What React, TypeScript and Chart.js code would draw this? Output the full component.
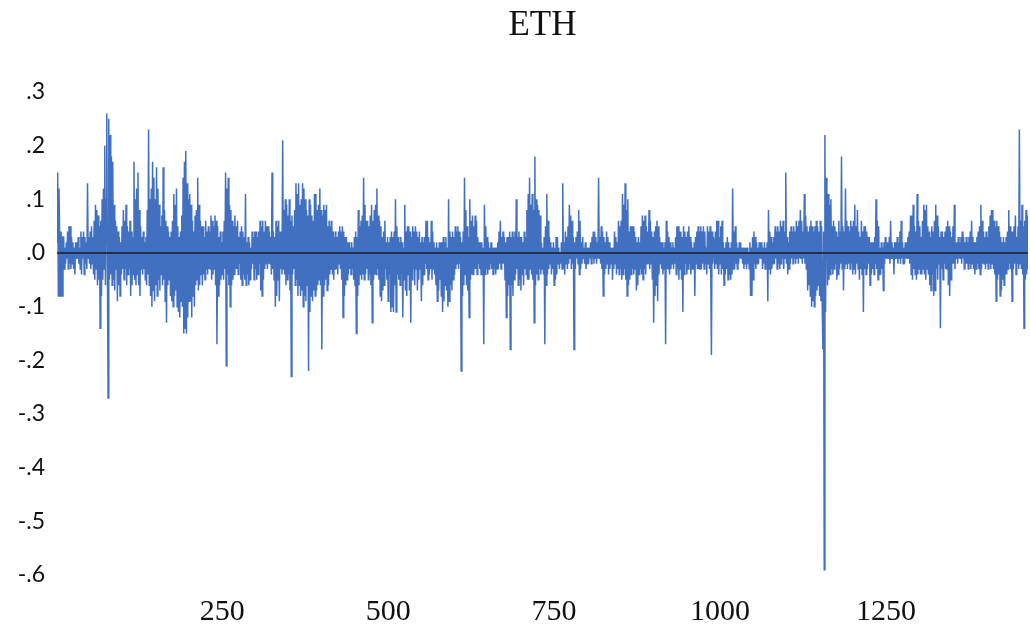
import { useEffect, useRef } from "react";
import { Chart, registerables } from "chart.js";

Chart.register(...registerables);

const chartTitle = "ETH";
const xTickValues = [250, 500, 750, 1000, 1250];
const yMinPct = -60;
const yMaxPct = 30;
const yStepPct = 10;

// daily returns, in hundredths (0.01 = 1)
const returnsPct = [
  2, 15, -8, 12, 3, -8, 4, 2, -8, 3,
  3, -3, 1, -2, 2, -1, 4, -3, 5, -2,
  5, -3, 3, -2, 2, -3, 1, -4, 2, -1,
  2, -1, 3, -2, 1, -3, 4, -4, 3, -1,
  4, -4, 3, -2, 2, -3, 13, -1, 3, -2,
  4, -3, 5, -2, 3, -4, 6, -5, 9, -3,
  8, -6, 7, -5, 5, -14, 6, -8, 10, -5,
  12, -3, 20, -6, 10, 26, -4, -27, 25, -5,
  22, -4, 18, -6, 17, -5, 9, -7, 6, -3,
  5, -9, 4, -6, 3, -8, 2, -4, 5, -3,
  8, -5, 6, -3, 9, -6, 5, -4, 4, -3,
  6, -8, 4, -6, 3, -4, 17, -5, 10, -6,
  12, -4, 15, -6, 8, -8, 5, -3, 3, -4,
  4, -3, 2, -5, 3, -6, 8, -4, 23, -6,
  10, -8, 12, -10, 17, -7, 14, -9, 10, -6,
  16, -8, 12, -5, 9, -7, 5, -4, 7, -6,
  16, -5, 8, -9, 6, -13, 5, -6, 4, -5,
  3, -8, 4, -9, 6, -10, 11, -8, 9, -7,
  12, -10, 5, -11, 3, -12, 4, -9, 7, -10,
  14, -15, 17, -14, 19, -15, 13, -12, 10, -9,
  11, -9, 9, -12, 6, -8, 4, -10, 7, -6,
  8, -5, 14, -7, 9, -6, 6, -4, 5, -6,
  5, -4, 3, -5, 6, -3, 4, -4, 5, -3,
  4, -3, 7, -5, 6, -4, 5, -3, 7, -6,
  6, -17, 5, -8, 3, -6, 4, -5, 2, -4,
  4, -5, 6, -3, 15, -21, 12, -4, 14, -6,
  9, -10, 8, -6, 6, -5, 5, -4, 7, -3,
  5, -3, 6, -4, 3, -2, 4, -5, 5, -6,
  4, -4, 3, -5, 11, -6, 2, -4, 3, -6,
  2, -5, 1, -3, 4, -2, 3, -5, 4, -3,
  4, -5, 3, -4, 4, -2, 6, -7, 5, -8,
  6, -5, 4, -3, 6, -2, 5, -3, 5, -2,
  4, -2, 3, -4, 15, -3, 4, -5, 3, -10,
  6, -8, 5, -5, 6, -9, 4, -3, 3, -4,
  21, -3, 8, -4, 10, -6, 9, -5, 7, -4,
  10, -7, 6, -23, 7, -4, 5, -3, 8, -6,
  13, -5, 11, -8, 13, -6, 9, -8, 10, -7,
  13, -10, 12, -8, 10, -9, 8, -6, 7, -22,
  10, -11, 9, -8, 7, -9, 6, -7, 11, -8,
  11, -7, 8, -6, 9, -5, 12, -6, 8, -18,
  7, -8, 9, -6, 8, -5, 9, -7, 5, -6,
  6, -4, 5, -3, 6, -4, 4, -5, 3, -3,
  4, -3, 3, -4, 4, -2, 5, -3, 4, -5,
  5, -12, 4, -8, 3, -6, 3, -5, 2, -4,
  2, -3, 1, -4, 2, -3, 1, -5, 3, -6,
  4, -15, 3, -8, 8, -6, 5, -4, 6, -5,
  7, -4, 14, -5, 9, -4, 6, -3, 6, -5,
  5, -4, 7, -6, 9, -13, 6, -5, 8, -4,
  9, -4, 12, -3, 7, -5, 6, -8, 5, -9,
  3, -7, 4, -6, 6, -3, 2, -5, 3, -9,
  2, -4, 3, -11, 4, -10, 3, -11, 4, -6,
  10, -11, 5, -4, 3, -5, 2, -6, 3, -4,
  2, -12, 1, -5, 9, -7, 4, -8, 5, -4,
  5, -7, 4, -13, 3, -5, 5, -3, 4, -6,
  5, -3, 4, -7, 3, -5, 4, -3, 2, -9,
  3, -6, 2, -4, 3, -2, 6, -3, 6, -5,
  3, -4, 2, -3, 6, -5, 4, -3, 2, -4,
  1, -6, 2, -9, 1, -7, 2, -5, 2, -8,
  2, -11, 3, -9, 2, -6, 3, -7, 1, -10,
  10, -9, 4, -6, 3, -7, 4, -5, 3, -4,
  5, -3, 4, -2, 5, -3, 4, -2, 3, -22,
  2, -8, 4, -6, 14, -4, 8, -6, 5, -7,
  3, -12, 10, -5, 6, -4, 7, -4, 5, -3,
  7, -3, 6, -4, 3, -2, 2, -3, 2, -4,
  2, -3, 1, -17, 9, -4, 5, -3, 3, -4,
  2, -3, 1, -2, 2, -3, 1, -4, 1, -3,
  1, -4, 1, -3, 2, -3, 4, -2, 6, -3,
  3, -2, 4, -2, 3, -5, 2, -12, 3, -8,
  3, -6, 4, -18, 3, -6, 4, -8, 3, -5,
  4, -4, 10, -3, 3, -6, 4, -5, 3, -7,
  3, -4, 2, -6, 4, -3, 3, -4, 8, -5,
  11, -5, 14, -3, 9, -4, 11, -5, 8, -13,
  18, -6, 10, -4, 9, -5, 8, -3, 7, -4,
  2, -3, 1, -4, 3, -17, 5, -6, 11, -4,
  6, -3, 3, -2, 2, -4, 1, -3, 2, -6,
  1, -5, 3, -4, 3, -2, 1, -3, 0, -2,
  2, -3, 13, -3, 2, -4, 4, -2, 3, -3,
  5, -2, 9, -1, 7, -3, 6, -2, 3, -18,
  2, -3, 3, -1, 4, -2, 8, -4, 6, -3,
  2, -2, 3, -1, 1, -2, 2, -3, 1, -2,
  1, -2, 1, -1, 2, -2, 3, -1, 4, -2,
  4, -1, 3, -2, 2, -1, 14, -1, 3, -2,
  5, -3, 4, -8, 3, -4, 2, -3, 4, -2,
  3, -4, 2, -3, 1, -2, 1, -5, 1, -3,
  4, -2, 3, -4, 2, -3, 6, -4, 5, -3,
  6, -5, 11, -4, 9, -3, 13, -5, 8, -8,
  10, -6, 4, -5, 5, -4, 5, -3, 5, -4,
  4, -3, 3, -7, 2, -6, 3, -4, 2, -3,
  5, -4, 7, -5, 6, -3, 7, -4, 5, -2,
  4, -2, 8, -3, 6, -2, 4, -5, 3, -13,
  4, -8, 5, -6, 6, -9, 5, -4, 3, -2,
  2, -3, 2, -4, 1, -3, 2, -17, 6, -3,
  4, -3, 3, -4, 2, -3, 1, -2, 2, -3,
  1, -2, 3, -4, 5, -3, 5, -5, 4, -3,
  4, -5, 3, -11, 5, -4, 4, -2, 3, -4,
  4, -3, 5, -2, 3, -4, 2, -3, 1, -3,
  2, -8, 3, -2, 4, -3, 5, -3, 4, -3,
  5, -3, 4, -2, 5, -3, 4, -2, 1, -4,
  5, -2, 4, -3, 5, -3, -19, 4, -2, 3,
  2, -3, 4, -2, 6, -3, 6, -4, 3, -2,
  5, -4, 6, -3, 2, -6, 1, -4, 2, -3,
  3, -5, 2, -4, 1, -5, 2, -4, 12, -3,
  4, -3, 5, -2, 2, -3, 1, -2, 2, -1,
  2, -1, 1, -2, 1, -3, 1, -2, 1, -3,
  1, -2, 0, -3, 2, -8, 1, -8, 3, -5,
  4, -2, 3, -3, 2, -2, 1, -2, 2, -1,
  2, -1, 2, -3, 1, -2, 2, -3, 1, -2,
  2, -9, 8, -3, 4, -4, 3, -3, 2, -2,
  3, -2, 5, -1, 4, -3, 5, -2, 4, -3,
  6, -2, 5, -1, 6, -3, 4, -1, 15, -2,
  3, -4, 2, -3, 4, -2, 5, -1, 4, -2,
  5, -1, 4, -2, 6, -1, 5, -2, 6, -1,
  8, -1, 6, -2, 4, -1, 11, -2, 7, -3,
  5, -7, 4, -6, 5, -8, 6, -10, 5, -9,
  4, -10, 5, -8, 6, -7, 5, -6, 4, -8,
  6, -9, 5, -10, -18, 4, -59, 22, -11, 14,
  10, -6, 11, -5, 9, -4, 10, -3, 5, -4,
  6, -3, 5, -2, 4, -5, 3, -4, 6, -3,
  4, -2, 18, -3, 5, -7, 4, -3, 12, -2,
  6, -3, 5, -2, 4, -3, 6, -2, 5, -4,
  6, -3, 9, -4, 5, -2, 8, -3, 4, -5,
  3, -3, 6, -4, 4, -11, 5, -3, 5, -4,
  4, -3, 3, -2, 3, -6, 2, -4, 2, -3,
  2, -4, 3, -2, 10, -3, 6, -5, 5, -4,
  1, -4, 2, -3, 1, -7, 2, -2, 3, -1,
  2, -1, 2, -1, 3, -2, 6, -1, 2, -1,
  1, -4, 2, -1, 2, -1, 3, -2, 2, -1,
  4, -2, 6, -1, 2, -2, 1, -2, 2, -1,
  2, -1, 3, -1, 4, -2, 7, -4, 7, -5,
  9, -3, 5, -4, 4, -5, 11, -4, 6, -3,
  5, -4, 3, -4, 6, -3, 9, -4, 8, -5,
  9, -3, 5, -4, 4, -6, 3, -7, 5, -4,
  4, -8, 6, -7, 9, -3, 7, -5, 5, -2,
  3, -14, 4, -3, 4, -5, 3, -2, 4, -3,
  5, -3, 6, -6, 5, -8, 4, -5, 3, -2,
  5, -2, 9, -3, 2, -1, 2, -2, 3, -1,
  2, -1, 3, -2, 4, -1, 3, -3, 2, -2,
  3, -2, 2, -3, 3, -2, 4, -3, 6, -2,
  3, -3, 2, -4, 2, -3, 3, -2, 4, -3,
  5, -4, 9, -3, 6, -2, 4, -2, 3, -3,
  4, -2, 3, -3, 5, -2, 7, -3, 8, -2,
  8, -3, 6, -4, 5, -9, 6, -5, 5, -4,
  4, -8, 3, -7, 2, -5, 3, -6, 2, -4,
  3, -4, 4, -3, 8, -2, 5, -3, 4, -9,
  4, -3, 5, -2, 7, -4, 3, -2, 5, -3,
  23, -2, 6, -3, 9, -4, 5, -14, 6, -5,
  8, -4, 7, -3,
];

const observationLabels = returnsPct.map((_, i) => i + 1);

const formatY = (v: number) => {
  if (v === 0) return ".0";
  const s = (Math.abs(v) / 100).toFixed(1).replace(/^0/, "");
  return (v < 0 ? "-" : "") + s;
};

const zeroLinePlugin = {
  id: "zeroLine",
  afterDatasetsDraw(chart: any) {
    const { ctx, chartArea, scales } = chart;
    const y = scales.y.getPixelForValue(0);
    ctx.save();
    ctx.strokeStyle = "#1c1c24";
    ctx.lineWidth = 1.5;
    ctx.beginPath();
    ctx.moveTo(chartArea.left, y);
    ctx.lineTo(chartArea.right, y);
    ctx.stroke();
    ctx.restore();
  },
};

export default function App() {
  const canvasRef = useRef<HTMLCanvasElement | null>(null);

  useEffect(() => {
    document.body.style.margin = "0";
    const canvas = canvasRef.current;
    if (!canvas) return;
    const serif = "'Liberation Serif', 'Times New Roman', serif";
    const chart = new Chart(canvas, {
      type: "line",
      data: {
        labels: observationLabels,
        datasets: [
          {
            data: returnsPct,
            borderColor: "#4270C0",
            borderWidth: 1.5,
            pointRadius: 0,
            tension: 0,
            fill: false,
          },
        ],
      },
      options: {
        animation: false,
        responsive: false,
        devicePixelRatio: 1,
        layout: { padding: { left: 0, right: 2, top: 0, bottom: 0 } },
        plugins: {
          legend: { display: false },
          tooltip: { enabled: false },
          title: {
            display: true,
            fullSize: false,
            text: chartTitle,
            color: "#111",
            font: { family: serif, size: 35, weight: "normal" },
            padding: { top: 5, bottom: 45 },
          },
        },
        scales: {
          x: {
            type: "linear",
            min: 1,
            max: returnsPct.length,
            grid: { display: false, drawTicks: false },
            border: { display: false },
            ticks: {
              color: "#111",
              font: { family: serif, size: 30 },
              padding: 19,
              maxRotation: 0,
              autoSkip: false,
              callback: (v: any) => String(v),
            },
            afterBuildTicks: (s: any) => {
              s.ticks = xTickValues.map((v) => ({ value: v }));
            },
            afterFit: (s: any) => {
              s.height = 51;
            },
          },
          y: {
            min: yMinPct,
            max: yMaxPct,
            grid: { display: false, drawTicks: false },
            border: { display: false },
            ticks: {
              stepSize: yStepPct,
              color: "#111",
              font: { family: "Lato, 'Open Sans', sans-serif", size: 23 },
              padding: 12,
              callback: (v: any) => formatY(Number(v)),
            },
            afterFit: (s: any) => {
              s.width = 57;
            },
          },
        },
      },
      plugins: [zeroLinePlugin],
    });
    return () => chart.destroy();
  }, []);

  return (
    <div style={{ width: 1030, height: 626 }}>
      <canvas ref={canvasRef} width={1030} height={626} />
    </div>
  );
}
